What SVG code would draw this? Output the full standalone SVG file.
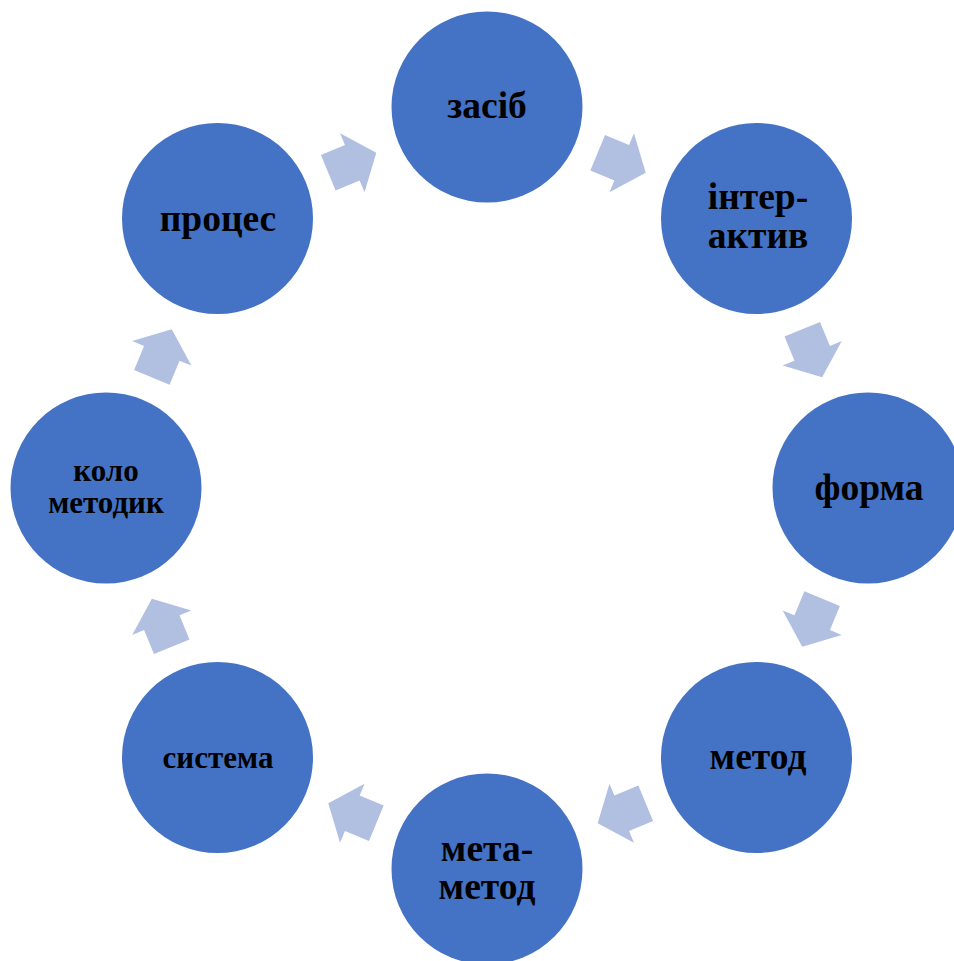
<svg xmlns="http://www.w3.org/2000/svg" width="954" height="961" viewBox="0 0 954 961">
<style>
.n{fill:#4472C4}
.t{font-family:"Liberation Serif","Times New Roman",serif;font-weight:bold;fill:#000;text-anchor:middle;font-size:37.5px}
.s{font-size:31px}
.a{fill:#B1BFE1}
</style>
<defs>
<path id="arr" d="M-26,-19.2 L0,-19.2 L0,-32 L26,0 L0,32 L0,19.2 L-26,19.2 Z"/>
</defs>
<rect width="954" height="961" fill="#fff"/>
<g id="connectors">
<use href="#arr" class="a" transform="rotate(-112.5 487 488) translate(839 488) rotate(90)"/>
<use href="#arr" class="a" transform="rotate(-67.5 487 488) translate(839 488) rotate(90)"/>
<use href="#arr" class="a" transform="rotate(-22.5 487 488) translate(839 488) rotate(90)"/>
<use href="#arr" class="a" transform="rotate(22.5 487 488) translate(839 488) rotate(90)"/>
<use href="#arr" class="a" transform="rotate(67.5 487 488) translate(839 488) rotate(90)"/>
<use href="#arr" class="a" transform="rotate(112.5 487 488) translate(839 488) rotate(90)"/>
<use href="#arr" class="a" transform="rotate(157.5 487 488) translate(839 488) rotate(90)"/>
<use href="#arr" class="a" transform="rotate(-157.5 487 488) translate(839 488) rotate(90)"/>
</g>
<g id="n1"><circle class="n" cx="487" cy="107" r="95.5"/><text class="t" x="487" y="118">засіб</text></g>
<g id="n2"><circle class="n" cx="756.5" cy="218.5" r="95.5"/><text class="t" x="758" y="209">інтер-</text><text class="t" x="758" y="248">актив</text></g>
<g id="n3"><circle class="n" cx="868" cy="488" r="95.5"/><text class="t" x="869" y="500">форма</text></g>
<g id="n4"><circle class="n" cx="756.5" cy="757.5" r="95.5"/><text class="t" x="758" y="769">метод</text></g>
<g id="n5"><circle class="n" cx="487" cy="869" r="95.5"/><text class="t" x="487" y="861">мета-</text><text class="t" x="487" y="899">метод</text></g>
<g id="n6"><circle class="n" cx="217.5" cy="757.5" r="95.5"/><text class="t s" x="218" y="768">система</text></g>
<g id="n7"><circle class="n" cx="106" cy="488" r="95.5"/><text class="t s" x="106" y="481">коло</text><text class="t s" x="106" y="513">методик</text></g>
<g id="n8"><circle class="n" cx="217.5" cy="218.5" r="95.5"/><text class="t" x="218" y="231">процес</text></g>
</svg>
